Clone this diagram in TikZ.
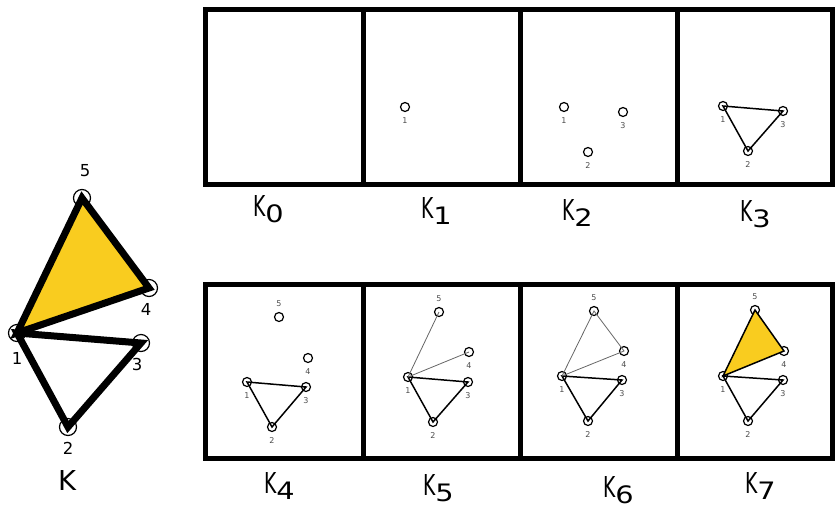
\documentclass[tikz,border=0pt]{standalone}
\usepackage{fontspec}
\setmainfont{DejaVu Sans}
\usepackage{graphicx}
\usetikzlibrary{positioning}
\definecolor{simplexfill}{RGB}{249,204,31}
\newcommand{\kname}[1]{\scalebox{0.65}[1]{K}\raisebox{-6pt}{\fontsize{24}{24}\selectfont\scalebox{1.2}[1]{#1}}}

\begin{document}
\begin{tikzpicture}[
		x=1pt,y=-1pt,
		stagebox/.style={draw,line width=5pt},
		vtx/.style={circle,draw,line width=1.2pt,inner sep=0pt,minimum size=9pt},
		bigvtx/.style={circle,draw,line width=1.2pt,inner sep=0pt,minimum size=17pt},
		num/.style={font=\fontsize{8}{8}\selectfont,text=black!70,inner sep=0pt},
		bignum/.style={font=\fontsize{16.5}{16.5}\selectfont,inner sep=0pt},
		stagename/.style={font=\fontsize{28.8}{28.8}\selectfont,inner sep=0pt,anchor=base west},
		side/.style={line width=1.5pt},
		faint/.style={line width=0.8pt,draw=black!60},
		bigside/.style={line width=7pt}
		]
		\useasboundingbox (0,0) rectangle (837,512);
		
		% the eight stages
		\draw[stagebox] (205,9.5) rectangle (832,184) (363,9.5) -- (363,184) (520,9.5) -- (520,184) (677,9.5) -- (677,184);
		\draw[stagebox] (205,284) rectangle (832,458.5) (363,284) -- (363,458.5) (520,284) -- (520,458.5) (677,284) -- (677,458.5);
		
		\node[stagename] (n0) at (253,216) {\kname{0}};
		\node[stagename] (n1) at (421,218) {\kname{1}};
		\node[stagename] (n2) at (562,220) {\kname{2}};
		\node[stagename] (n3) at (740,221) {\kname{3}};
		\node[stagename] (n4) at (264,493) {\kname{4}};
		\node[stagename] (n5) at (423,495) {\kname{5}};
		\node[stagename] (n6) at (603,497) {\kname{6}};
		\node[stagename] (n7) at (745,493) {\kname{7}};
		
		% K1
		\node[vtx] (k1v1) at (405,107) {};
		\node[num,below=5pt of k1v1] (k1l1) {1};
		
		% K2
		\node[vtx] (k2v1) at (564,107) {};
		\node[vtx] (k2v2) at (588,152) {};
		\node[vtx] (k2v3) at (623,112) {};
		
		% K3
		\node[vtx] (k3v1) at (723,106) {};
		\node[vtx] (k3v2) at (748,151) {};
		\node[vtx] (k3v3) at (783,111) {};
		\draw[side] (k3v1.center) -- (k3v2.center) -- (k3v3.center) -- cycle;
		
		% K4
		\node[vtx] (k4v1) at (247,382) {};
		\node[vtx] (k4v2) at (272,427) {};
		\node[vtx] (k4v3) at (306,387) {};
		\node[vtx] (k4v4) at (308,358) {};
		\node[vtx] (k4v5) at (279,317) {};
		\draw[side] (k4v1.center) -- (k4v2.center) -- (k4v3.center) -- cycle;
		
		% K5
		\node[vtx] (k5v1) at (408,377) {};
		\node[vtx] (k5v2) at (433,422) {};
		\node[vtx] (k5v3) at (468,382) {};
		\node[vtx] (k5v4) at (469,352) {};
		\node[vtx] (k5v5) at (439,312) {};
		\draw[side] (k5v1.center) -- (k5v2.center) -- (k5v3.center) -- cycle;
		\draw[faint] (k5v1.center) -- (k5v5.center);
		\draw[faint] (k5v1.center) -- (k5v4.center);
		
		% K6
		\node[vtx] (k6v1) at (562,376) {};
		\node[vtx] (k6v2) at (588,421) {};
		\node[vtx] (k6v3) at (622,380) {};
		\node[vtx] (k6v4) at (624,351) {};
		\node[vtx] (k6v5) at (594,311) {};
		\draw[side] (k6v1.center) -- (k6v2.center) -- (k6v3.center) -- cycle;
		\draw[faint] (k6v1.center) -- (k6v5.center) -- (k6v4.center) -- cycle;
		
		% K7
		\node[vtx] (k7v1) at (723,376) {};
		\node[vtx] (k7v2) at (748,421) {};
		\node[vtx] (k7v3) at (783,380) {};
		\node[vtx] (k7v4) at (784,351) {};
		\node[vtx] (k7v5) at (755,310) {};
		\draw[side] (k7v1.center) -- (k7v2.center) -- (k7v3.center) -- cycle;
		\draw[side,fill=simplexfill] (k7v1.center) -- (k7v5.center) -- (k7v4.center) -- cycle;
		
		% vertex numbers
		\foreach \s in {2,3,4,5,6,7} {
			\node[num,below=5pt of k\s v1] (k\s l1) {1};
			\node[num,below=5pt of k\s v2] (k\s l2) {2};
			\node[num,below=5pt of k\s v3] (k\s l3) {3};
		}
		\foreach \s in {4,5,6,7} {
			\node[num,below=5pt of k\s v4] (k\s l4) {4};
			\node[num,above=5pt of k\s v5] (k\s l5) {5};
		}
		
		% the complex K
		\node[bigvtx] (v1) at (17,333) {};
		\node[bigvtx] (v2) at (68,427) {};
		\node[bigvtx] (v3) at (141,343) {};
		\node[bigvtx] (v4) at (149,288) {};
		\node[bigvtx] (v5) at (82,198) {};
		\draw[bigside,fill=simplexfill] (v1.center) -- (v5.center) -- (v4.center) -- cycle;
		\draw[bigside] (v1.center) -- (v2.center) -- (v3.center) -- cycle;
		
		\node[bignum,below=10pt of v1] (l1) {1};
		\node[bignum,below=6pt of v2] (l2) {2};
		\node[bignum,below=6pt of v3,xshift=-4pt] (l3) {3};
		\node[bignum,below=6pt of v4,xshift=-3pt] (l4) {4};
		\node[bignum,above=12pt of v5,xshift=3pt] (l5) {5};
		\node[font=\fontsize{27.4}{27.4}\selectfont,inner sep=0pt] (kname) at (67,481) {K};
		
	\end{tikzpicture}
\end{document}
